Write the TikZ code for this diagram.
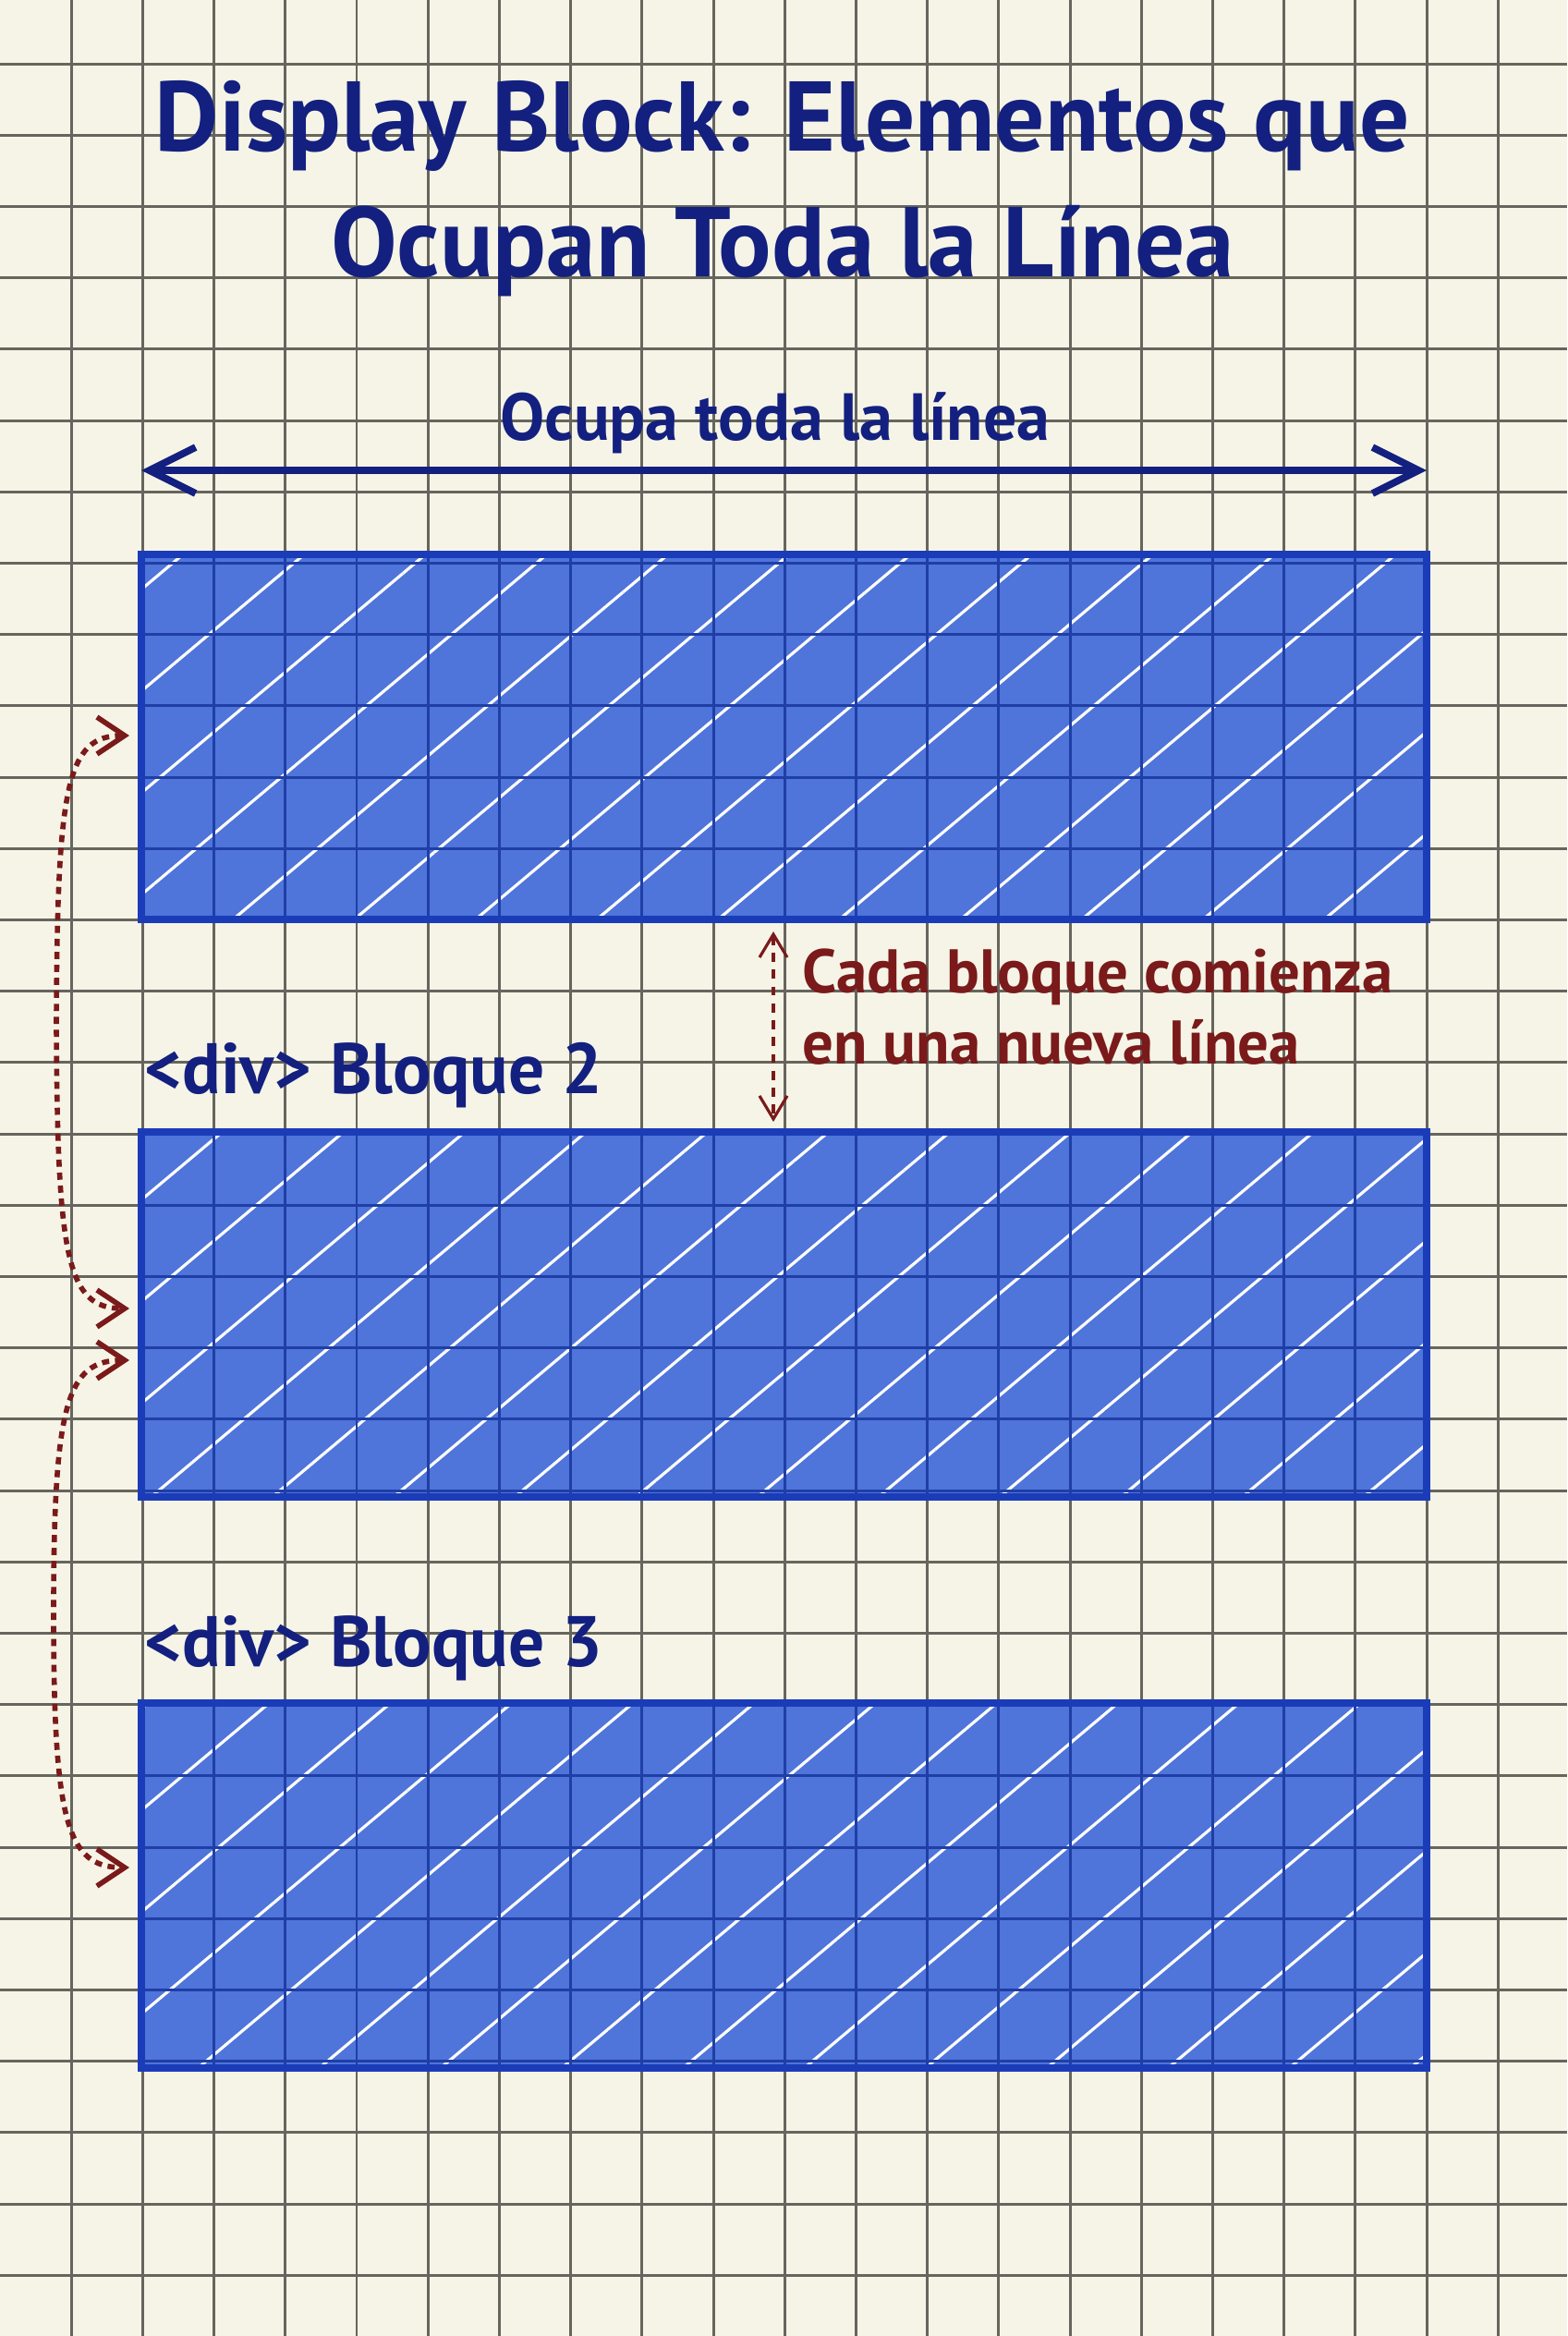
\documentclass[tikz,border=0pt]{standalone}
\usepackage{fontspec}
\setmainfont{PT Sans}
\usepackage{xcolor}
\usetikzlibrary{arrows.meta,patterns.meta}

\definecolor{paper}{HTML}{F6F4E6}
\definecolor{gridgray}{HTML}{66655E}
\definecolor{blockfill}{HTML}{4F74DA}
\definecolor{blockedge}{HTML}{1B3CB8}
\definecolor{blockgrid}{HTML}{1F3FA6}
\definecolor{ink}{HTML}{13207F}
\definecolor{redink}{HTML}{7A1A1A}

\begin{document}
\begin{tikzpicture}[
        x=1cm, y=-1cm,
        gridline/.style = {draw=gridgray, line width=0.85pt},
        innergrid/.style = {draw=blockgrid, line width=0.85pt},
        block/.style = {rectangle, draw=blockedge, line width=2.4pt, fill=blockfill,
                        minimum width=13.91cm, minimum height=3.95cm, inner sep=0pt, outer sep=0pt,
                        anchor=north west,
                        postaction={fill opacity=0.3, pattern={Lines[angle=40,distance=24pt,line width=0.9pt]}, pattern color=white}},
        title/.style = {text=ink, align=center, font=\bfseries\fontsize{30.5}{38.5}\selectfont},
        lbl/.style = {text=ink, anchor=west, inner sep=0pt, font=\bfseries\fontsize{22}{25}\selectfont},
        note/.style = {text=redink, anchor=west, align=left, inner sep=0pt, font=\bfseries\fontsize{19}{21.9}\selectfont},
        widearrow/.style = {draw=ink, line width=2.2pt, {Straight Barb[length=5mm,width=5mm]}-{Straight Barb[length=5mm,width=5mm]}},
        gaparrow/.style = {draw=redink, line width=0.9pt, dash pattern=on 2.8pt off 2.4pt, {Straight Barb[length=2.5mm,width=3mm]}-{Straight Barb[length=2.5mm,width=3mm]}},
        flow/.style = {draw=redink, line width=1.6pt, dash pattern=on 2.2pt off 1.8pt, {Straight Barb[length=3mm,width=4mm]}-{Straight Barb[length=3mm,width=4mm]}},
      ]

      \useasboundingbox (0,0) rectangle (16.96,25.28);
      \clip (0,0) rectangle (16.96,25.28);
      \fill[paper] (0,0) rectangle (16.96,25.28);
      \foreach \i in {1,...,21}
        \draw[gridline] (\i*0.772,0) -- (\i*0.772,25.28);
      \foreach \j in {1,...,32}
        \draw[gridline] (0,\j*0.772-0.082) -- (16.96,\j*0.772-0.082);

      \node[title] (title) at (8.47,2.04) {Display Block: Elementos que\\Ocupan Toda la Línea};

      \coordinate (wl) at (1.53,5.09);
      \coordinate (wr) at (15.44,5.09);
      \draw[widearrow] (wl) -- (wr);
      \node[text=ink, font=\bfseries\fontsize{20.5}{25}\selectfont] (wlabel) at (8.39,4.58) {Ocupa toda la línea};

      \node[block] (blk1) at (1.53,6.00) {};
      \node[block] (blk2) at (1.53,12.25) {};
      \node[block] (blk3) at (1.53,18.43) {};

      \begin{scope}
        \clip (blk1.north west) rectangle (blk1.south east)
              (blk2.north west) rectangle (blk2.south east)
              (blk3.north west) rectangle (blk3.south east);
        \foreach \i in {2,...,20}
          \draw[innergrid] (\i*0.772,0) -- (\i*0.772,25.28);
        \foreach \j in {7,...,29}
          \draw[innergrid] (0,\j*0.772-0.082) -- (16.96,\j*0.772-0.082);
      \end{scope}
      \draw[blockedge, line width=2.4pt] (blk1.north west) rectangle (blk1.south east);
      \draw[blockedge, line width=2.4pt] (blk2.north west) rectangle (blk2.south east);
      \draw[blockedge, line width=2.4pt] (blk3.north west) rectangle (blk3.south east);

      \node[lbl] (lbl2) at (1.56,11.64) {<div> Bloque 2};
      \node[lbl] (lbl3) at (1.56,17.84) {<div> Bloque 3};

      \coordinate (g1) at (8.37,10.08);
      \coordinate (g2) at (8.37,12.14);
      \draw[gaparrow] (g1) -- (g2);
      \node[note] (note) at (8.68,10.90) {Cada bloque comienza\\en una nueva línea};

      \coordinate (c1) at (1.40,7.96);
      \coordinate (c2) at (1.40,14.16);
      \coordinate (c3) at (1.40,14.72);
      \coordinate (c4) at (1.40,20.21);
      \draw[flow] (c1) .. controls (0.72,7.96) and (0.62,8.5) .. (0.61,11.06) .. controls (0.62,13.6) and (0.72,14.16) .. (c2);
      \draw[flow] (c3) .. controls (0.72,14.72) and (0.58,15.2) .. (0.58,17.46) .. controls (0.58,19.7) and (0.72,20.21) .. (c4);

    \end{tikzpicture}
\end{document}
